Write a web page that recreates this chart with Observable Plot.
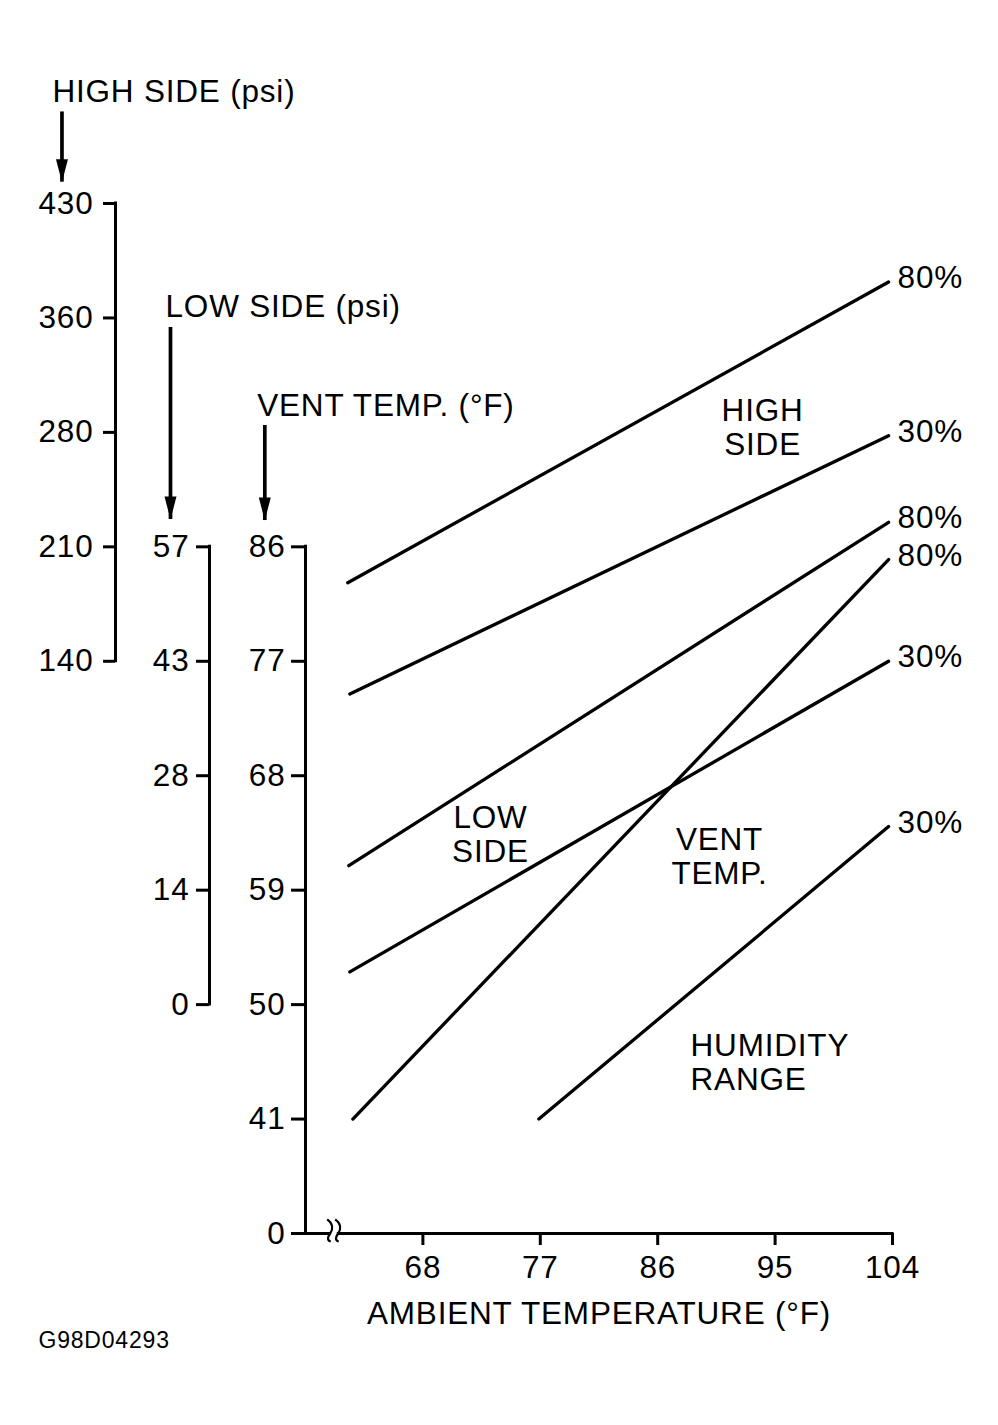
<!DOCTYPE html>
<html>
<head>
<meta charset="utf-8">
<script src="https://cdn.jsdelivr.net/npm/d3@7"></script>
<script src="https://cdn.jsdelivr.net/npm/@observablehq/plot@0.6"></script>
<style>
  html, body { margin: 0; padding: 0; background: #fff; }
  #chart svg { display: block; }
</style>
</head>
<body>
<div id="chart"></div>
<script>
// ---------- data ----------
const ambientTicks = [68, 77, 86, 95, 104];          // °F, x axis
const ventTicks = [0, 41, 50, 59, 68, 77, 86];       // °F, "0" sits at the axis break
const ventBreak = 32;                                 // grid position of the "0" label
const lowTicks = [0, 14, 28, 43, 57];                 // psi
const lowAt = [50, 59, 68, 77, 86];                   // vent-temp grid rows where low-side ticks sit
const highTicks = [140, 210, 280, 360, 430];          // psi
const highAt = [77, 86, 95, 104, 113];                // vent-temp grid rows where high-side ticks sit

// [ambient °F, value in own units]
const highSide80 = [[62.24, 188], [103.7, 382]];
const highSide30 = [[62.4, 120], [103.7, 278]];
const lowSide80 = [[62.32, 17], [103.7, 60]];
const lowSide30 = [[62.4, 4], [103.7, 43]];
const ventTemp80 = [[62.63, 41], [103.7, 85]];
const ventTemp30 = [[76.89, 41], [103.7, 64]];

const headerNames = ["HIGH SIDE (psi)", "LOW SIDE (psi)", "VENT TEMP. (°F)"];
const regionNames = ["HIGH\nSIDE", "LOW\nSIDE", "VENT\nTEMP.", "HUMIDITY\nRANGE"];
const xTitle = "AMBIENT TEMPERATURE (°F)";
const figureId = "G98D04293";

// ---------- unit converters onto the common grid ----------
const highToGrid = d3.scaleLinear().domain(highTicks).range(highAt);
const lowToGrid = d3.scaleLinear().domain(lowTicks).range(lowAt);
const ventToGrid = v => v;

const curves = [
  {id: "high80", pct: "80%", pts: highSide80, f: highToGrid},
  {id: "high30", pct: "30%", pts: highSide30, f: highToGrid},
  {id: "low80", pct: "80%", pts: lowSide80, f: lowToGrid},
  {id: "low30", pct: "30%", pts: lowSide30, f: lowToGrid},
  {id: "vent80", pct: "80%", pts: ventTemp80, f: ventToGrid},
  {id: "vent30", pct: "30%", pts: ventTemp30, f: ventToGrid}
];
const rows = curves.flatMap(c => c.pts.map(([a, v]) => ({id: c.id, pct: c.pct, ambient: a, y: c.f(v)})));
const ends = curves.map(c => {
  const [a, v] = c.pts[c.pts.length - 1];
  return {pct: c.pct, ambient: a, y: c.f(v)};
});

// annotation placement (data units of the chart)
const headers = [
  {text: headerNames[0], x: 39.6, y: 121.8, ax: 40.33, top: 120.2, tip: 114.68},
  {text: headerNames[1], x: 48.27, y: 104.9, ax: 48.65, top: 103.25, tip: 88.15},
  {text: headerNames[2], x: 55.3, y: 97.1, ax: 55.88, top: 95.54, tip: 88.07}
];
const regions = [
  {text: regionNames[0], x: 94.04, y: 95.41, anchor: "middle"},
  {text: regionNames[1], x: 73.18, y: 63.39, anchor: "middle"},
  {text: regionNames[2], x: 90.74, y: 61.65, anchor: "middle"},
  {text: regionNames[3], x: 88.52, y: 45.45, anchor: "start"}
];

// filled arrow head, tip at the anchor point
const arrowHead = {
  draw(ctx) {
    ctx.moveTo(0, 0);
    ctx.lineTo(-6, -23);
    ctx.lineTo(6, -23);
    ctx.closePath();
  }
};
// axis-break glyph: two wavy strokes
const breakGlyph = {
  draw(ctx) {
    for (const o of [-4, 4]) {
      ctx.moveTo(o - 3, -14);
      ctx.bezierCurveTo(o + 3, -10, o + 3, -4, o, 0);
      ctx.bezierCurveTo(o - 3, 4, o - 3, 7, o + 0.5, 8);
    }
  }
};

const xMin = 59, xMax = 104;
const gapFrom = 60.85, gapTo = 61.55;

const chart = Plot.plot({
  width: 998,
  height: 1425,
  marginLeft: 305,
  marginRight: 106,
  marginTop: 203,
  marginBottom: 192,
  x: {domain: [xMin, xMax]},
  y: {domain: [ventBreak, highAt[highAt.length - 1]]},
  style: {
    fontFamily: "'Liberation Sans', Arial, Helvetica, sans-serif",
    fontSize: "31.5px",
    letterSpacing: "0.8px",
    background: "#fff",
    color: "#000",
    overflow: "visible"
  },
  marks: [
    // axis lines
    Plot.ruleX([xMin], {y1: ventBreak, y2: ventTicks[ventTicks.length - 1], strokeWidth: 3, strokeLinecap: "square"}),
    Plot.ruleX([xMin], {y1: lowAt[0], y2: lowAt[lowAt.length - 1], dx: -96, strokeWidth: 3, strokeLinecap: "square"}),
    Plot.ruleX([xMin], {y1: highAt[0], y2: highAt[highAt.length - 1], dx: -190, strokeWidth: 3, strokeLinecap: "square"}),
    Plot.ruleY([ventBreak], {x1: xMin, x2: gapFrom, strokeWidth: 3, strokeLinecap: "square"}),
    Plot.ruleY([ventBreak], {x1: gapTo, x2: xMax, strokeWidth: 3, strokeLinecap: "square"}),
    Plot.dot([ventBreak], {x: (gapFrom + gapTo) / 2, y: d => d, dy: 0, symbol: breakGlyph, fill: "none", stroke: "#000", strokeWidth: 2.2}),

    // axes
    Plot.axisX(ambientTicks, {anchor: "bottom", tickSize: 12, tickPadding: 10, strokeWidth: 3, label: null}),
    Plot.axisY(ventTicks.map(v => v === 0 ? ventBreak : v), {
      anchor: "left", tickSize: 14, tickPadding: 6, strokeWidth: 3, label: null,
      tickFormat: d => d === ventBreak ? "0" : String(d)
    }),
    Plot.axisY(lowAt, {
      anchor: "left", dx: -96, tickSize: 13, tickPadding: 7, strokeWidth: 3, label: null,
      tickFormat: d => String(lowTicks[lowAt.indexOf(d)])
    }),
    Plot.axisY(highAt, {
      anchor: "left", dx: -190, tickSize: 12, tickPadding: 10, strokeWidth: 3, label: null,
      tickFormat: d => String(highTicks[highAt.indexOf(d)])
    }),

    // data lines
    Plot.line(rows, {x: "ambient", y: "y", z: "id", stroke: "#000", strokeWidth: 3.3}),
    Plot.text(ends, {x: "ambient", y: "y", text: "pct", textAnchor: "start", dx: 9, dy: -4}),

    // header labels with arrows
    Plot.text(headers, {x: "x", y: "y", text: "text", textAnchor: "start"}),
    Plot.ruleX(headers, {x: "ax", y1: "top", y2: "tip", strokeWidth: 3.7}),
    Plot.dot(headers, {x: "ax", y: "tip", symbol: arrowHead, fill: "#000", stroke: "none"}),

    // region labels
    Plot.text(regions.filter(d => d.anchor === "middle"), {x: "x", y: "y", text: "text", textAnchor: "middle", lineHeight: 1.075}),
    Plot.text(regions.filter(d => d.anchor === "start"), {x: "x", y: "y", text: "text", textAnchor: "start", lineHeight: 1.075}),

    // x axis title and figure id
    Plot.text([xTitle], {text: d => d, frameAnchor: "bottom", dy: 90}),
    Plot.text([figureId], {x: 38.53, y: 23.59, text: d => d, textAnchor: "start", fontSize: 23, letterSpacing: 0})
  ]
});

document.getElementById("chart").appendChild(chart);
</script>
</body>
</html>
